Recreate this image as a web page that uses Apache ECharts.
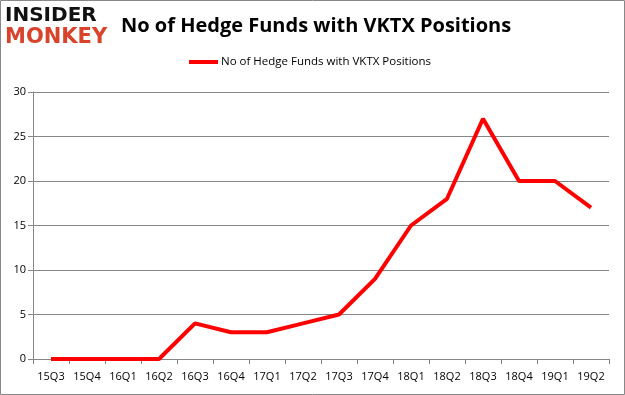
<!DOCTYPE html>
<html><head><meta charset="utf-8">
<script src="https://cdn.jsdelivr.net/npm/echarts@6/dist/echarts.min.js"></script>
<style>html,body{margin:0;padding:0;background:#fff}#c{width:625px;height:395px}</style>
</head><body><div id="c"></div>
<script>
const categories = ['15Q3','15Q4','16Q1','16Q2','16Q3','16Q4','17Q1','17Q2','17Q3','17Q4','18Q1','18Q2','18Q3','18Q4','19Q1','19Q2'];
const values = [0,0,0,0,4,3,3,4,5,9,15,18,27,20,20,17];
const seriesName = 'No of Hedge Funds with VKTX Positions';
const titleText = 'No of Hedge Funds with VKTX Positions';

const chart = echarts.init(document.getElementById('c'), null, {renderer:'canvas'});
chart.setOption({
  animation:false,
  backgroundColor:'#fff',
  title:{text:titleText, left:116, top:11, textStyle:{fontFamily:'Open Sans', fontWeight:'bold', fontSize:20, color:'#000'}},
  legend:{data:[seriesName], top:56, left:189, padding:0, itemWidth:29, itemHeight:4, itemGap:3, icon:'rect',
    textStyle:{fontFamily:'Open Sans', fontSize:11.5, color:'#000', padding:[0,0,0,-2]}},
  grid:{left:33, right:16, top:92, bottom:36, containLabel:false},
  xAxis:{type:'category', data:categories, boundaryGap:true,
    axisLine:{lineStyle:{color:'#868686'}},
    axisTick:{show:true, length:5, lineStyle:{color:'#868686'}},
    axisLabel:{fontFamily:'Open Sans', fontSize:11, color:'#000', margin:12}},
  yAxis:{type:'value', min:0, max:30, interval:5,
    axisLine:{show:true, lineStyle:{color:'#868686'}},
    axisTick:{show:true, length:5, lineStyle:{color:'#868686'}},
    splitLine:{lineStyle:{color:'#868686'}},
    axisLabel:{fontFamily:'Open Sans', fontSize:11, color:'#000', margin:7}},
  series:[{name:seriesName, type:'line', data:values, symbol:'none', lineStyle:{color:'#ff0000', width:4}, itemStyle:{color:'#ff0000'}}],
  graphic:[
    {type:'rect', shape:{x:0.5,y:0.5,width:624,height:394}, style:{fill:'none', stroke:'#888', lineWidth:1}},
    {type:'text', left:5, top:6, style:{text:'INSIDER', fontFamily:'DejaVu Sans', fontWeight:'bold', fontSize:20, fill:'#111'}},
    {type:'text', left:5, top:27, style:{text:'MONKEY', fontFamily:'DejaVu Sans', fontWeight:'bold', fontSize:21, fill:'#d9432b'}}
  ]
});
</script></body></html>
